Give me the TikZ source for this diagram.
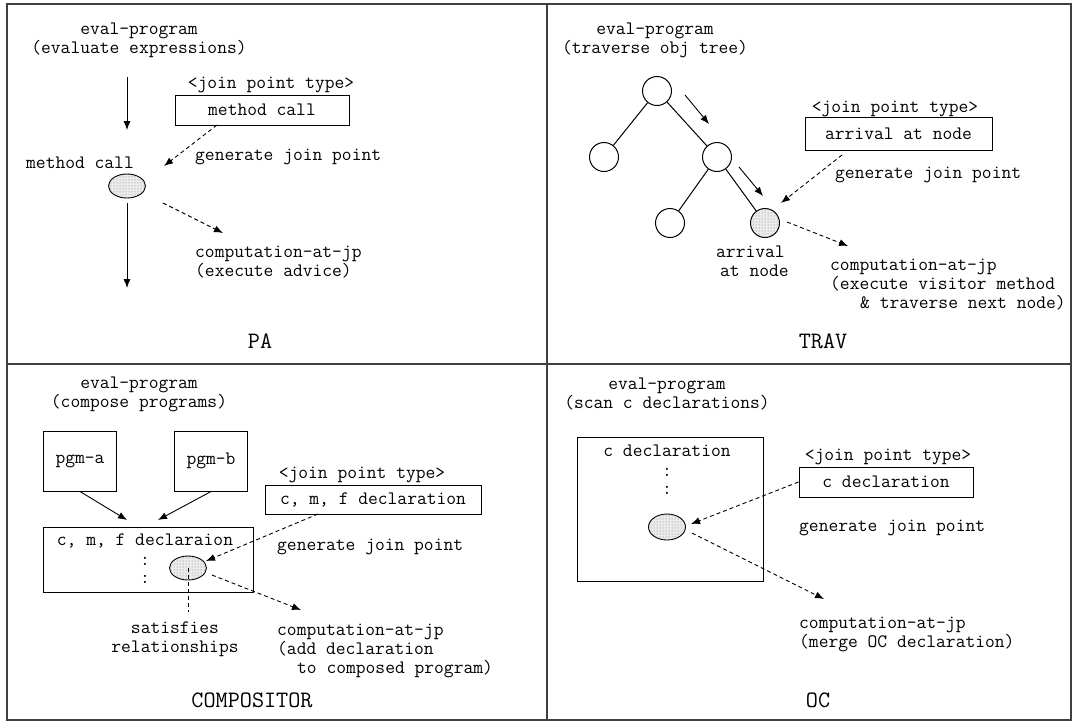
\documentclass[tikz,border=0pt]{standalone}
\usetikzlibrary{arrows.meta,shapes.geometric,patterns}
\begin{document}
\begin{tikzpicture}[x=1pt,y=-1pt,
  every node/.style={font=\ttfamily\fontsize{19pt}{19pt}\selectfont, inner sep=0pt},
  lbl/.style={font=\ttfamily\fontsize{23.5pt}{24pt}\selectfont},
  frame/.style={draw=black!75, line width=1.4pt},
  boxnode/.style={draw, line width=1pt, rectangle},
  jp/.style={ellipse, draw, line width=0.9pt, minimum width=37pt, minimum height=24pt,
    fill=gray!15, postaction={pattern=dots, pattern color=black!55}},
  treenode/.style={circle, draw, line width=1pt, minimum size=29pt},
  arr/.style={line width=0.9pt, -{Latex[length=9pt,width=7pt]}},
  darr/.style={line width=0.9pt, dash pattern=on 4pt off 3pt, -{Latex[length=9pt,width=7pt]}},
  dline/.style={line width=0.9pt, dash pattern=on 4pt off 3pt},
  edge/.style={line width=1pt}
]
\useasboundingbox (0,0) rectangle (1076,723);
% frame
\draw[frame] (7,4) rectangle (1071,720);
\draw[frame] (547,4) -- (547,720);
\draw[frame] (7,364) -- (1071,364);

% ---------------- PA ----------------
\node[align=center] (pa-title) at (139,40.5) {eval-program\\(evaluate expressions)};
\node (pa-jpt) at (271,85) {<join point type>};
\node[boxnode, minimum width=174pt, minimum height=30pt] (pa-box) at (262,110) {method call};
\node (pa-mcl) at (80,163) {method call};
\node[jp] (pa-jp) at (127,186) {};
\node[anchor=west] (pa-gen) at (195,157) {generate join point};
\node[anchor=west, align=left] (pa-comp) at (195,262.5) {computation-at-jp\\(execute advice)};
\node[lbl] (pa-lbl) at (260,341) {PA};
\coordinate (pa-a1s) at (127,77);
\coordinate (pa-a1e) at (127,130);
\coordinate (pa-a2s) at (127,203);
\coordinate (pa-a2e) at (127,288);
\coordinate (pa-d1s) at (217,125);
\coordinate (pa-d1e) at (164,166);
\coordinate (pa-d2s) at (163,203);
\coordinate (pa-d2e) at (223,233);
\draw[arr] (pa-a1s) -- (pa-a1e);
\draw[arr] (pa-a2s) -- (pa-a2e);
\draw[darr] (pa-d1s) -- (pa-d1e);
\draw[darr] (pa-d2s) -- (pa-d2e);

% ---------------- TRAV ----------------
\node[align=center] (tr-title) at (655,40.5) {eval-program\\(traverse obj tree)};
\node[treenode] (tr-root) at (657,91) {};
\node[treenode] (tr-l) at (604,157) {};
\node[treenode] (tr-r) at (717,157) {};
\node[treenode] (tr-rl) at (670,223) {};
\node[treenode, fill=gray!15, postaction={pattern=dots, pattern color=black!55}] (tr-rr) at (765,223) {};
\draw[edge] (tr-root) -- (tr-l);
\draw[edge] (tr-root) -- (tr-r);
\draw[edge] (tr-r) -- (tr-rl);
\draw[edge] (tr-r) -- (tr-rr);
\coordinate (tr-a1s) at (685,95);
\coordinate (tr-a1e) at (709,124);
\coordinate (tr-a2s) at (739,167);
\coordinate (tr-a2e) at (763,196);
\draw[arr] (tr-a1s) -- (tr-a1e);
\draw[arr] (tr-a2s) -- (tr-a2e);
\node (tr-jpt) at (895,109) {<join point type>};
\node[boxnode, minimum width=187pt, minimum height=33pt] (tr-box) at (898.5,133.5) {arrival at node};
\node[anchor=west] (tr-gen) at (835,175) {generate join point};
\coordinate (tr-d1s) at (842,155);
\coordinate (tr-d1e) at (781,203);
\coordinate (tr-d2s) at (787,222);
\coordinate (tr-d2e) at (848,246);
\draw[darr] (tr-d1s) -- (tr-d1e);
\draw[darr] (tr-d2s) -- (tr-d2e);
\node[anchor=west, align=left] (tr-arr) at (716,261.5) {arrival\\\hspace*{4pt}at node};
\node[anchor=west, align=left] (tr-comp) at (830,285) {computation-at-jp\\(execute visitor method\\\hspace*{30pt}\& traverse next node)};
\node[lbl] (tr-lbl) at (823,341) {TRAV};

% ---------------- COMPOSITOR ----------------
\node[align=center] (co-title) at (139,394) {eval-program\\(compose programs)};
\node[boxnode, minimum width=73pt, minimum height=60pt] (co-a) at (80,461) {pgm-a};
\node[boxnode, minimum width=73pt, minimum height=60pt] (co-b) at (211,461) {pgm-b};
\node[boxnode, minimum width=210pt, minimum height=65pt] (co-decl) at (148,559.5) {};
\node (co-dt) at (145,541) {c, m, f declaraion};
\node (co-c1) at (145,561) {:};
\node (co-c2) at (145,579) {:};
\node[jp] (co-jp) at (188,568) {};
\coordinate (co-a1e) at (127,520);
\coordinate (co-a2e) at (158,520);
\draw[arr] (co-a.south) -- (co-a1e);
\draw[arr] (co-b.south) -- (co-a2e);
\coordinate (co-v) at (188,612);
\draw[dline] (co-jp.center) -- (co-v);
\node[align=center] (co-sat) at (175,639.5) {satisfies\\relationships};
\node (co-jpt) at (362,475) {<join point type>};
\node[boxnode, minimum width=216pt, minimum height=29pt] (co-box) at (373,499.5) {c, m, f declaration};
\node[anchor=west] (co-gen) at (277,547) {generate join point};
\coordinate (co-d1s) at (318,514);
\coordinate (co-d1e) at (206,561);
\coordinate (co-d2s) at (212,575);
\coordinate (co-d2e) at (301,610);
\draw[darr] (co-d1s) -- (co-d1e);
\draw[darr] (co-d2s) -- (co-d2e);
\node[anchor=west, align=left] (co-comp) at (277,650.5) {computation-at-jp\\(add declaration\\\hspace*{20pt}to composed program)};
\node[lbl] (co-lbl) at (252,700) {COMPOSITOR};

% ---------------- OC ----------------
\node[align=center] (oc-title) at (667,394) {eval-program\\(scan c declarations)};
\node[boxnode, minimum width=186pt, minimum height=144pt] (oc-decl) at (670,509) {};
\node (oc-dt) at (667,451) {c declaration};
\node (oc-c1) at (667,472) {:};
\node (oc-c2) at (667,490) {:};
\node[jp, minimum height=26pt] (oc-jp) at (667,527) {};
\node (oc-jpt) at (888,457) {<join point type>};
\node[boxnode, minimum width=174pt, minimum height=30pt] (oc-box) at (886,482) {c declaration};
\node[anchor=west] (oc-gen) at (799,528) {generate join point};
\coordinate (oc-d1e) at (691,524);
\coordinate (oc-d2s) at (692,533);
\coordinate (oc-d2e) at (824,599);
\draw[darr] (oc-box.west) -- (oc-d1e);
\draw[darr] (oc-d2s) -- (oc-d2e);
\node[anchor=west, align=left] (oc-comp) at (799,634.5) {computation-at-jp\\(merge OC declaration)};
\node[lbl] (oc-lbl) at (818,700) {OC};
\end{tikzpicture}
\end{document}
